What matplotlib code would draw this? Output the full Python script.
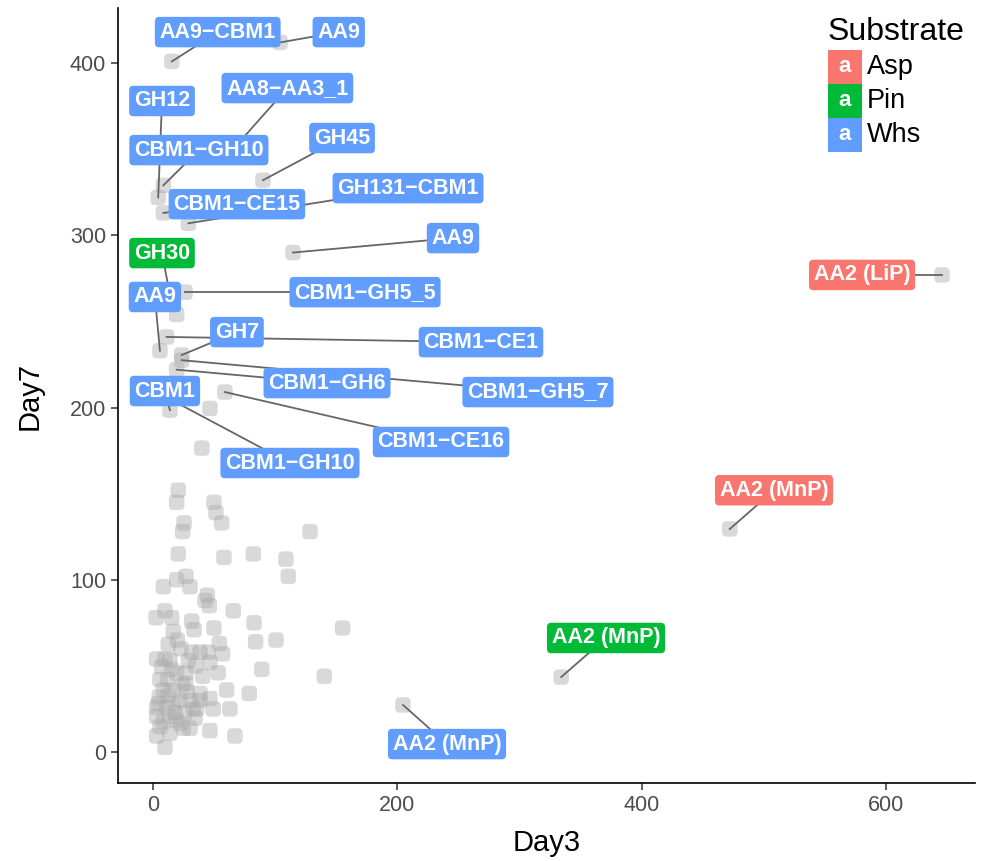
import numpy as np
import matplotlib
matplotlib.use('Agg')
import matplotlib.pyplot as plt
from matplotlib.patches import Rectangle
from matplotlib.path import Path

plt.rcParams['font.family'] = ['Liberation Sans', 'DejaVu Sans']

# unlabelled genes (Day3, Day7)
bg_day3 = [20.7, 19.4, 49.9, 51.6, 56.2, 25.4, 24.3, 128.5, 20.7, 58.1, 82.1, 108.8,
           110.7, 8.5, 19.4, 27, 30.3, 44.5, 42.6, 46.1, 65.7, 9.8, 2.5, 15.3, 31.7,
           16.6, 33.6, 49.9, 82.7, 155.2, 84, 100.7, 12.5, 22.7, 54.3, 3, 9.8, 31.7,
           38.5, 45.3, 57, 28.9, 46.6, 15.3, 27, 40.7, 53.4, 89, 140.2, 5.7, 24.3,
           60.3, 78.8, 38.5, 5.2, 12.5, 46.6, 49.3, 63, 33, 3, 11.2, 18, 26.2, 3, 8.5,
           19.4, 30.3, 46.6, 67.1, 3, 9.8, 13.9, 5.7, 24.8, 7.1, 13.9, 19.4, 8.5,
           16.6, 22.1, 30.3, 35.8, 13.9, 22.1, 34.4, 4.4, 38.5, 27, 35, 20, 12, 17,
           28, 19.4, 46.6, 40]
bg_day7 = [152, 145, 145, 139, 133, 133, 128, 128, 115, 113, 115, 112,
           102, 96, 100, 102, 96, 91, 88, 85, 82, 82, 78, 78, 76,
           70, 71, 72, 75, 72, 64, 65, 62.5, 60, 63, 54, 54, 58,
           58, 58, 57, 53, 52, 48, 46, 44, 46, 48, 44, 42, 39,
           36, 34, 34, 32, 33, 31, 25, 25, 25, 26, 26, 23, 22.5, 20.5, 17.6,
           18.6, 13.8, 12.4, 9.3, 9.3, 2.7, 10.9, 14.7, 13.8, 49.5, 53.4, 45.7, 36,
           36, 30, 30, 25, 20.5, 16.6, 19.6, 28, 30, 40, 50, 65, 42, 28,
           35, 254, 199.5, 176.5]

# labelled genes
lab_text = ['AA9−CBM1', 'AA9', 'GH12', 'AA8−AA3_1', 'CBM1−GH10', 'GH45', 'GH131−CBM1',
            'CBM1−CE15', 'AA9', 'GH30', 'AA9', 'CBM1−GH5_5', 'GH7', 'CBM1−CE1',
            'CBM1−GH6', 'CBM1−GH5_7', 'CBM1', 'CBM1−CE16', 'CBM1−GH10',
            'AA2 (LiP)', 'AA2 (MnP)', 'AA2 (MnP)', 'AA2 (MnP)']
lab_sub = ['Whs', 'Whs', 'Whs', 'Whs', 'Whs', 'Whs', 'Whs', 'Whs', 'Whs', 'Pin', 'Whs',
           'Whs', 'Whs', 'Whs', 'Whs', 'Whs', 'Whs', 'Whs', 'Whs', 'Asp', 'Asp', 'Pin', 'Whs']
lab_day3 = [15.5, 104, 4.3, 63, 8.5, 90, 29, 8.5, 114.6, 14, 5.7, 26.2, 23.5, 11.2,
            19.4, 23.5, 13.9, 58.9, 5.7, 645.6, 472, 334, 204.6]
lab_day7 = [401, 412, 322, 348, 329, 332, 307, 313, 290, 265, 233, 267, 230.5, 241,
            222, 227.5, 198.5, 209, 208, 277, 129.5, 43.5, 27.3]

substrates = ['Asp', 'Pin', 'Whs']
sub_colors = {'Asp': '#F8766D', 'Pin': '#00BA38', 'Whs': '#619CFF'}

# where the repelled labels ended up (layout)
label_xy = [(53, 418), (152, 418), (7.4, 378), (110, 385.5), (37.6, 349.5), (154.7, 356.5),
            (208.7, 327.4), (68.7, 318.1), (245.5, 298.4), (7.4, 289.7), (1.6, 264.2),
            (173.5, 267), (68.7, 243.8), (268.4, 238), (142.4, 214.2), (315, 209),
            (9.8, 209.6), (235.7, 180), (112.1, 167.8), (580.2, 277), (508.2, 152),
            (370.7, 66.2), (240.6, 4.6)]

W, H = 982, 861
fig = plt.figure(figsize=(W / 100, H / 100), dpi=100)
ax = fig.add_axes([118 / W, 78 / H, (975 - 118) / W, (853 - 78) / H])

# rounded-square marker
t = np.linspace(0, 2 * np.pi, 60)
n = 4
mx = np.sign(np.cos(t)) * np.abs(np.cos(t)) ** (2 / n)
my = np.sign(np.sin(t)) * np.abs(np.sin(t)) ** (2 / n)
squircle = Path(np.column_stack([mx, my]), closed=True)

all_x = np.array(bg_day3 + lab_day3)
all_y = np.array(bg_day7 + lab_day7)
ax.scatter(all_x, all_y, s=125, marker=squircle, color='#ababab', alpha=0.45,
           edgecolors='none', zorder=2)

for txt, sub, x, y, (lx, ly) in zip(lab_text, lab_sub, lab_day3, lab_day7, label_xy):
    ax.plot([x, lx], [y, ly], color='#666666', lw=1.3, zorder=3)
    ax.text(lx, ly, txt, ha='center', va='center', color='white', fontsize=15.5,
            fontweight='bold',
            bbox=dict(boxstyle='round,pad=0.22,rounding_size=0.2', fc=sub_colors[sub], ec='none'),
            zorder=4)

ax.set_xlim(-28.6, 672.6)
ax.set_ylim(-18, 432)
ax.set_xticks([0, 200, 400, 600])
ax.set_yticks([0, 100, 200, 300, 400])
for s in ['top', 'right']:
    ax.spines[s].set_visible(False)
for s in ['left', 'bottom']:
    ax.spines[s].set_linewidth(1.2)
ax.tick_params(length=5, width=1.1, color='#333333', labelcolor='#4D4D4D', labelsize=15.5)
ax.set_xlabel('Day3', fontsize=21)
ax.set_ylabel('Day7', fontsize=21)
ax.xaxis.set_label_coords(0.5, (783 - 843) / 775)
ax.xaxis.label.set_va('center')
ax.yaxis.set_label_coords((30 - 118) / 857, 0.5)
ax.yaxis.label.set_va('center')

# legend
fig.text(828 / W, 1 - 32 / H, 'Substrate', fontsize=23, ha='left', va='center')
for i, sub in enumerate(substrates):
    top = 50 + 34 * i
    fig.patches.append(Rectangle((828 / W, 1 - (top + 34) / H), 34 / W, 34 / H,
                                 transform=fig.transFigure, fc=sub_colors[sub], ec='none'))
    fig.text(845 / W, 1 - (top + 17) / H, 'a', color='white', fontsize=16,
             fontweight='bold', ha='center', va='center')
    fig.text(867 / W, 1 - (top + 17) / H, sub, fontsize=19.5, ha='left', va='center')

fig.savefig('out.png', dpi=100)
